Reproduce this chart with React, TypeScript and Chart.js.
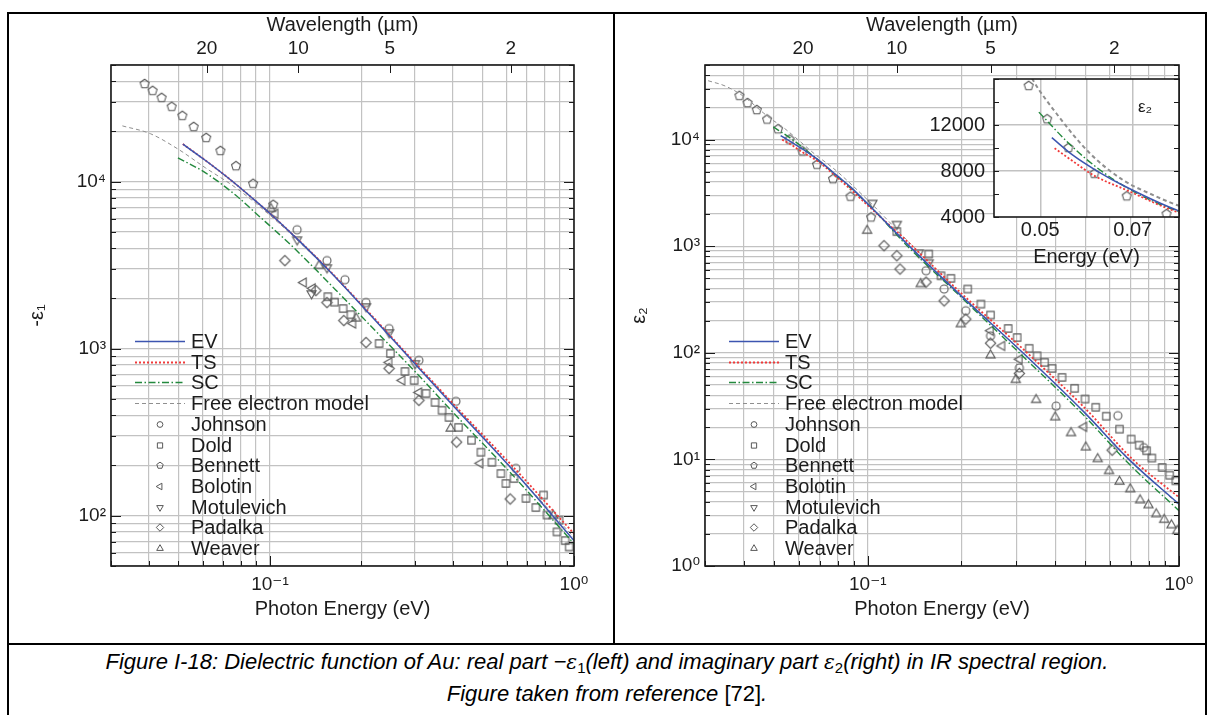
import React, { useEffect, useRef } from 'react';
import { Chart, registerables } from 'chart.js';

Chart.register(...registerables);

// ---------------- axis / tick data ----------------
const X_MIN = 0.03;
const X_MAX = 1;
const LEFT_Y_MIN = 50;
const LEFT_Y_MAX = 50000;
const RIGHT_Y_MIN = 1;
const RIGHT_Y_MAX = 50000;
const WAVELENGTH_TICKS_UM = [20, 10, 5, 2];
const HC_EV_UM = 1.23984;
const INSET_X_TICKS = [0.04, 0.05, 0.06, 0.07, 0.08];
const INSET_X_LABELS = [0.05, 0.07];
const INSET_Y_TICKS = [4000, 6000, 8000, 10000, 12000, 14000, 16000];
const INSET_Y_LABELS = [4000, 8000, 12000];
const LEGEND_KEYS = ['EV', 'TS', 'SC', 'FE', 'Johnson', 'Dold', 'Bennett', 'Bolotin', 'Motulevich', 'Padalka', 'Weaver'];
const LEGEND_LABELS = ['EV', 'TS', 'SC', 'Free electron model', 'Johnson', 'Dold', 'Bennett', 'Bolotin', 'Motulevich', 'Padalka', 'Weaver'];

// ---------------- left panel : -eps1 ----------------
const L_EV_E = [0.0517, 0.0614, 0.075, 0.088, 0.1, 0.1228, 0.1552, 0.2034, 0.3, 0.404, 0.634, 1.0];
const L_EV_V = [16800, 13400, 10100, 7900, 6450, 4550, 2980, 1760, 810, 448, 185, 71];
const L_TS_E = [0.0517, 0.0614, 0.075, 0.088, 0.1, 0.1228, 0.1552, 0.2034, 0.3, 0.404, 0.634, 1.0];
const L_TS_V = [16800, 13400, 10100, 7900, 6450, 4560, 3000, 1780, 825, 460, 194, 78];
const L_SC_E = [0.0498, 0.0614, 0.0772, 0.088, 0.1193, 0.1645, 0.2214, 0.3, 0.404, 0.634, 1.0];
const L_SC_V = [13900, 11300, 8300, 6700, 4050, 2250, 1290, 730, 408, 172, 68];
const L_FE_E = [0.0327, 0.0404, 0.0498, 0.0614, 0.0772, 0.1, 0.15, 0.2, 0.3, 0.5, 1.0];
const L_FE_V = [21600, 19400, 15700, 12100, 9200, 6300, 3150, 1820, 820, 300, 74];

const BENNETT_E = [0.0387, 0.0411, 0.044, 0.0475, 0.0515, 0.0561, 0.0617, 0.0687, 0.0773, 0.088, 0.1025];
const L_BENNETT_V = [38500, 35000, 31800, 28100, 24800, 21300, 18300, 15300, 12400, 9720, 7280];

const L_JOHNSON_E = [0.1228, 0.154, 0.1765, 0.207, 0.2465, 0.309, 0.409, 0.644];
const L_JOHNSON_V = [5160, 3370, 2590, 1890, 1320, 851, 484, 192];
const L_DOLD_E = [0.155, 0.163, 0.174, 0.1846, 0.2285, 0.249, 0.278, 0.298, 0.326, 0.349, 0.368, 0.388, 0.417, 0.46, 0.494, 0.537, 0.575, 0.597, 0.635, 0.695, 0.749, 0.794, 0.815, 0.879, 0.893, 0.935, 0.964];
const L_DOLD_V = [2050, 1900, 1740, 1600, 1075, 937, 731, 646, 540, 477, 428, 388, 338, 283, 240, 209, 179, 156, 167, 127, 112, 133, 101, 80, 94, 71, 65];
const L_BOLOTIN_E = [0.104, 0.129, 0.138, 0.1875, 0.2465, 0.272, 0.309, 0.491];
const L_BOLOTIN_V = [6430, 2490, 2300, 1415, 828, 646, 547, 206];
const L_MOTULEVICH_E = [0.1228, 0.137, 0.154, 0.207, 0.2465, 0.3];
const L_MOTULEVICH_V = [4500, 2140, 3060, 1790, 1250, 817];
const L_PADALKA_E = [0.112, 0.1416, 0.154, 0.175, 0.207, 0.2465, 0.309, 0.411, 0.617];
const L_PADALKA_V = [3370, 2230, 1890, 1475, 1090, 762, 491, 276, 126];
const L_WEAVER_E = [0.1007, 0.145, 0.192, 0.393, 0.855];
const L_WEAVER_V = [6890, 3140, 1520, 333, 100];

// ---------------- right panel : eps2 ----------------
const R_EV_E = [0.0525, 0.0572, 0.0622, 0.0687, 0.0797, 0.088, 0.1035, 0.136, 0.2, 0.315, 0.5, 0.69, 1.0];
const R_EV_V = [10900, 9330, 8020, 6590, 4580, 3600, 2250, 1000, 340, 100, 27, 10, 3.8];
const R_TS_E = [0.0531, 0.0572, 0.0615, 0.0687, 0.0797, 0.1035, 0.138, 0.2, 0.325, 0.5, 0.71, 1.0];
const R_TS_V = [9980, 8810, 7630, 6330, 4420, 2200, 1020, 360, 100, 30, 10, 4.4];
const R_SC_E = [0.0497, 0.0563, 0.0622, 0.0692, 0.0797, 0.1035, 0.135, 0.2, 0.31, 0.5, 0.68, 1.0];
const R_SC_V = [13120, 10350, 8310, 6430, 4520, 2250, 980, 330, 97, 25, 9.5, 3.3];
const R_FE_E = [0.0307, 0.0348, 0.0396, 0.0464, 0.0483, 0.0535, 0.0606, 0.0678, 0.075, 0.0797, 0.1035, 0.136, 0.2, 0.315, 0.5, 0.69, 1.0];
const R_FE_V = [35600, 31800, 25800, 17600, 16000, 13000, 9590, 7240, 5800, 5020, 2450, 1080, 350, 100, 27, 10.2, 3.7];

const R_BENNETT_V = [25700, 22000, 18900, 15400, 12500, 10000, 7750, 5800, 4250, 2910, 1860];
const R_JOHNSON_E = [0.154, 0.176, 0.2065, 0.248, 0.307, 0.403, 0.636, 0.77];
const R_JOHNSON_V = [588, 396, 248, 144, 72, 31.6, 25.7, 12.9];
const R_DOLD_E = [0.124, 0.157, 0.172, 0.185, 0.2095, 0.231, 0.248, 0.2825, 0.302, 0.33, 0.35, 0.37, 0.391, 0.421, 0.462, 0.499, 0.54, 0.584, 0.644, 0.702, 0.745, 0.787, 0.818, 0.883, 0.933, 0.977];
const R_DOLD_V = [1370, 843, 527, 499, 396, 286, 226, 169, 139, 110, 93.7, 81.3, 71.3, 58.7, 46.4, 36.8, 30.8, 25.4, 19.2, 15.5, 13.6, 12.05, 10.3, 8.4, 7.1, 6.3];
const R_BOLOTIN_E = [0.248, 0.27, 0.307, 0.495];
const R_BOLOTIN_V = [161, 116, 87, 20.2];
const R_MOTULEVICH_E = [0.1035, 0.124, 0.146, 0.157];
const R_MOTULEVICH_V = [2540, 1610, 870, 700];
const R_PADALKA_E = [0.1128, 0.124, 0.127, 0.154, 0.176, 0.2065, 0.248, 0.307, 0.61];
const R_PADALKA_V = [1010, 813, 610, 460, 307, 207, 123, 64, 12.2];
const R_WEAVER_E = [0.0995, 0.148, 0.199, 0.248, 0.299, 0.3475, 0.4, 0.45, 0.502, 0.548, 0.596, 0.644, 0.697, 0.75, 0.798, 0.845, 0.896, 0.946, 0.987];
const R_WEAVER_V = [1400, 442, 186, 95, 55.8, 36.2, 24.9, 17.7, 13.0, 10.1, 7.8, 6.2, 5.27, 4.15, 3.73, 3.07, 2.72, 2.42, 2.14];

// ---------------- styles ----------------
const FONT = '"Liberation Sans", Arial, "DejaVu Sans", sans-serif';
const TXT = '#1c1c1c';
const GRID = '#c2c2c2';
const MARKER_COLOR = '#595959';
const LINE_STYLE: Record<string, { color: string; dash: number[]; width: number }> = {
  EV: { color: '#3c55b0', dash: [], width: 1.5 },
  TS: { color: '#f03a3a', dash: [2, 2], width: 1.8 },
  SC: { color: '#23893d', dash: [7, 2.5, 1.5, 2.5], width: 1.4 },
  FE: { color: '#8f8f8f', dash: [4, 3], width: 1 },
};
const MARKER_SHAPE: Record<string, { shape: string; r: number }> = {
  Johnson: { shape: 'circle', r: 4 },
  Dold: { shape: 'square', r: 4.3 },
  Bennett: { shape: 'pentagon', r: 4.7 },
  Bolotin: { shape: 'triLeft', r: 5.3 },
  Motulevich: { shape: 'triDown', r: 5.3 },
  Padalka: { shape: 'diamond', r: 5.2 },
  Weaver: { shape: 'triUp', r: 5.3 },
};

const SUP: Record<string, string> = { '-': '⁻', '0': '⁰', '1': '¹', '2': '²', '3': '³', '4': '⁴', '5': '⁵', '6': '⁶', '7': '⁷', '8': '⁸', '9': '⁹' };
const isPow10 = (v: number) => { const e = Math.log10(v); return Math.abs(e - Math.round(e)) < 1e-6; };
const pow10Label = (v: number) => isPow10(v) ? '10' + String(Math.round(Math.log10(v))).split('').map((c) => SUP[c]).join('') : '';
function logTicks(min: number, max: number) {
  const out: { value: number }[] = [];
  for (let d = Math.floor(Math.log10(min)); d <= Math.ceil(Math.log10(max)); d++) {
    for (let m = 1; m < 10; m++) {
      const v = parseFloat((m * Math.pow(10, d)).toPrecision(6));
      if (v >= min * 0.9999 && v <= max * 1.0001) out.push({ value: v });
    }
  }
  return out;
}
const pts = (e: number[], v: number[]) => e.map((x, i) => ({ x, y: v[i] }));

function shapePath(ctx: CanvasRenderingContext2D, shape: string, x: number, y: number, r: number) {
  ctx.beginPath();
  const poly = (n: number, rot: number) => {
    for (let i = 0; i < n; i++) {
      const a = rot + (i * 2 * Math.PI) / n;
      const px = x + r * Math.cos(a);
      const py = y + r * Math.sin(a);
      if (i) ctx.lineTo(px, py); else ctx.moveTo(px, py);
    }
    ctx.closePath();
  };
  switch (shape) {
    case 'circle': ctx.arc(x, y, r, 0, Math.PI * 2); break;
    case 'square': { const s = r * 0.85; ctx.rect(x - s, y - s, 2 * s, 2 * s); break; }
    case 'pentagon': poly(5, -Math.PI / 2); break;
    case 'triUp': poly(3, -Math.PI / 2); break;
    case 'triDown': poly(3, Math.PI / 2); break;
    case 'triLeft': poly(3, Math.PI); break;
    case 'diamond': poly(4, -Math.PI / 2); break;
  }
}

function markerImage(shape: string, r: number) {
  const size = Math.ceil(2 * r + 4);
  const c = document.createElement('canvas');
  c.width = size;
  c.height = size;
  const ctx = c.getContext('2d')!;
  ctx.strokeStyle = MARKER_COLOR;
  ctx.lineWidth = 1.1;
  shapePath(ctx, shape, size / 2, size / 2, r);
  ctx.stroke();
  return c;
}

function lineDs(key: string, e: number[], v: number[], widthScale = 1) {
  const s = LINE_STYLE[key];
  return {
    label: key,
    data: pts(e, v),
    showLine: true,
    pointRadius: 0,
    pointHoverRadius: 0,
    borderColor: s.color,
    backgroundColor: s.color,
    borderDash: s.dash,
    borderWidth: s.width * widthScale,
    cubicInterpolationMode: 'monotone',
    fill: false,
  };
}
function markerDs(key: string, e: number[], v: number[]) {
  const m = MARKER_SHAPE[key];
  return {
    label: key,
    data: pts(e, v),
    showLine: false,
    pointStyle: markerImage(m.shape, m.r),
    pointRadius: m.r,
    pointHoverRadius: m.r,
    borderColor: MARKER_COLOR,
    backgroundColor: 'rgba(0,0,0,0)',
  };
}

const LEG_TOP = 276;
const LEG_DY = 20.7;

function decoPlugin(withLegend: boolean) {
  return {
    id: 'deco',
    afterDatasetsDraw(chart: any) {
      const { ctx, chartArea: a } = chart;
      const sx = chart.scales.x;
      const sy = chart.scales.y;
      const sx2 = chart.scales.x2;
      ctx.save();
      ctx.strokeStyle = '#1a1a1a';
      ctx.lineWidth = 1;
      ctx.setLineDash([]);
      ctx.beginPath();
      for (const t of sx.ticks) {
        const px = Math.round(sx.getPixelForValue(t.value)) + 0.5;
        const L = isPow10(t.value) ? 10 : 5;
        ctx.moveTo(px, a.bottom);
        ctx.lineTo(px, a.bottom - L);
      }
      for (const t of sy.ticks) {
        const py = Math.round(sy.getPixelForValue(t.value)) + 0.5;
        const L = isPow10(t.value) ? 10 : 5;
        ctx.moveTo(a.left, py);
        ctx.lineTo(a.left + L, py);
        ctx.moveTo(a.right, py);
        ctx.lineTo(a.right - L, py);
      }
      if (sx2) {
        for (const t of sx2.ticks) {
          const px = Math.round(sx2.getPixelForValue(t.value)) + 0.5;
          ctx.moveTo(px, a.top);
          ctx.lineTo(px, a.top + 8);
        }
      }
      ctx.stroke();
      ctx.lineWidth = 1.6;
      ctx.strokeRect(a.left, a.top, a.right - a.left, a.bottom - a.top);

      if (withLegend) {
        ctx.font = `20px ${FONT}`;
        ctx.textBaseline = 'middle';
        ctx.textAlign = 'left';
        LEGEND_KEYS.forEach((key, i) => {
          const y = Math.round(a.top + LEG_TOP + i * LEG_DY) + 0.5;
          if (LINE_STYLE[key]) {
            const s = LINE_STYLE[key];
            ctx.strokeStyle = s.color;
            ctx.lineWidth = s.width;
            ctx.setLineDash(s.dash);
            ctx.beginPath();
            ctx.moveTo(a.left + 24, y);
            ctx.lineTo(a.left + 74, y);
            ctx.stroke();
            ctx.setLineDash([]);
          } else {
            const m = MARKER_SHAPE[key];
            ctx.strokeStyle = MARKER_COLOR;
            ctx.lineWidth = 1;
            shapePath(ctx, m.shape, a.left + 49, y, m.r * 0.72);
            ctx.stroke();
          }
          ctx.fillStyle = TXT;
          ctx.fillText(LEGEND_LABELS[i], a.left + 80, y + 1);
        });
      }
      ctx.restore();
    },
  };
}

function panelConfig(p: {
  ymin: number; ymax: number; ylabel: string; leftW: number; padRight: number; titlePad: number; datasets: any[];
}) {
  const tickFont = { size: 19, family: FONT };
  const titleFont = { size: 20, family: FONT };
  return {
    type: 'scatter',
    data: { datasets: p.datasets },
    options: {
      responsive: false,
      animation: false,
      events: [],
      layout: { padding: { left: 0, right: p.padRight, top: 0, bottom: 0 } },
      plugins: { legend: { display: false }, tooltip: { enabled: false } },
      scales: {
        x: {
          type: 'logarithmic', position: 'bottom', min: X_MIN, max: X_MAX,
          afterBuildTicks: (s: any) => { s.ticks = logTicks(X_MIN, X_MAX); },
          afterFit: (s: any) => { s.height = 79; },
          grid: { color: GRID, lineWidth: 1.2, drawTicks: false },
          border: { display: false },
          ticks: { autoSkip: false, maxRotation: 0, minRotation: 0, padding: 7, color: TXT, font: tickFont, callback: (v: any) => pow10Label(Number(v)) },
          title: { display: true, text: 'Photon Energy (eV)', color: TXT, font: titleFont, padding: { top: 0, bottom: 24 } },
        },
        x2: {
          type: 'logarithmic', position: 'top', min: X_MIN, max: X_MAX,
          afterBuildTicks: (s: any) => { s.ticks = WAVELENGTH_TICKS_UM.map((w) => ({ value: HC_EV_UM / w })); },
          afterFit: (s: any) => { s.height = 65; },
          grid: { display: false, drawTicks: false },
          border: { display: false },
          ticks: { autoSkip: false, maxRotation: 0, minRotation: 0, padding: 5, color: TXT, font: tickFont, callback: (v: any) => String(Math.round(HC_EV_UM / Number(v))) },
          title: { display: true, text: 'Wavelength (µm)', color: TXT, font: titleFont, padding: { top: 13, bottom: 0 } },
        },
        y: {
          type: 'logarithmic', position: 'left', min: p.ymin, max: p.ymax,
          afterBuildTicks: (s: any) => { s.ticks = logTicks(p.ymin, p.ymax); },
          afterFit: (s: any) => { s.width = p.leftW; },
          grid: { color: GRID, lineWidth: 1.2, drawTicks: false },
          border: { display: false },
          ticks: { autoSkip: false, padding: 5, color: TXT, font: tickFont, callback: (v: any) => pow10Label(Number(v)) },
          title: { display: true, text: p.ylabel, color: TXT, font: titleFont, padding: { top: p.titlePad, bottom: 0 } },
        },
      },
    },
    plugins: [decoPlugin(true)],
  };
}

function insetConfig() {
  const f = { size: 20, family: FONT };
  const near = (arr: number[], v: number) => arr.some((a) => Math.abs(a - v) < 1e-9);
  return {
    type: 'scatter',
    data: {
      datasets: [
        lineDs('EV', R_EV_E, R_EV_V),
        lineDs('TS', R_TS_E, R_TS_V),
        lineDs('SC', R_SC_E, R_SC_V),
        lineDs('FE', R_FE_E, R_FE_V, 2),
        markerDs('Bennett', BENNETT_E, R_BENNETT_V),
      ],
    },
    options: {
      responsive: false,
      animation: false,
      events: [],
      layout: { padding: { left: 0, right: 21, top: 7, bottom: 0 } },
      plugins: { legend: { display: false }, tooltip: { enabled: false } },
      scales: {
        x: {
          type: 'linear', min: 0.04, max: 0.08,
          afterBuildTicks: (s: any) => { s.ticks = INSET_X_TICKS.map((v) => ({ value: v })); },
          afterFit: (s: any) => { s.height = 56; },
          grid: { color: (c: any) => (c.tick && c.tick.value > 0.041 && c.tick.value < 0.079 ? GRID : 'rgba(0,0,0,0)'), lineWidth: 1.5, drawTicks: false },
          border: { display: false },
          ticks: { autoSkip: false, maxRotation: 0, minRotation: 0, padding: 1, color: TXT, font: f, callback: (v: any) => (near(INSET_X_LABELS, Number(v)) ? Number(v).toFixed(2) : '') },
          title: { display: true, text: 'Energy (eV)', color: TXT, font: f, padding: { top: 0, bottom: 4 } },
        },
        y: {
          type: 'linear', min: 4000, max: 16000,
          afterBuildTicks: (s: any) => { s.ticks = INSET_Y_TICKS.map((v) => ({ value: v })); },
          afterFit: (s: any) => { s.width = 64; },
          grid: { color: (c: any) => (c.tick && (c.tick.value === 8000 || c.tick.value === 12000) ? GRID : 'rgba(0,0,0,0)'), lineWidth: 1.5, drawTicks: false },
          border: { display: false },
          ticks: { autoSkip: false, padding: 9, color: TXT, font: f, callback: (v: any) => (near(INSET_Y_LABELS, Number(v)) ? String(v) : '') },
        },
      },
    },
    plugins: [
      {
        id: 'insetBg',
        beforeDraw(chart: any) {
          const { ctx, chartArea: a } = chart;
          ctx.save();
          ctx.fillStyle = '#ffffff';
          ctx.fillRect(a.left, a.top, a.right - a.left, a.bottom - a.top);
          ctx.restore();
        },
        afterDatasetsDraw(chart: any) {
          const { ctx, chartArea: a } = chart;
          const sy = chart.scales.y;
          ctx.save();
          ctx.strokeStyle = '#1a1a1a';
          ctx.lineWidth = 1;
          ctx.beginPath();
          for (const t of sy.ticks) {
            const py = Math.round(sy.getPixelForValue(t.value)) + 0.5;
            ctx.moveTo(a.left, py);
            ctx.lineTo(a.left + 5, py);
            ctx.moveTo(a.right, py);
            ctx.lineTo(a.right - 5, py);
          }
          ctx.stroke();
          ctx.lineWidth = 1.6;
          ctx.strokeRect(a.left, a.top, a.right - a.left, a.bottom - a.top);
          ctx.font = `17px ${FONT}`;
          ctx.fillStyle = TXT;
          ctx.textAlign = 'center';
          ctx.textBaseline = 'middle';
          ctx.fillText('ε₂', a.left + 151, a.top + 28);
          ctx.restore();
        },
      },
    ],
  };
}

export default function App() {
  const leftRef = useRef<HTMLCanvasElement>(null);
  const rightRef = useRef<HTMLCanvasElement>(null);
  const insetRef = useRef<HTMLCanvasElement>(null);

  useEffect(() => {
    const left = new Chart(leftRef.current as HTMLCanvasElement, panelConfig({
      ymin: LEFT_Y_MIN, ymax: LEFT_Y_MAX, ylabel: '-ε₁', leftW: 111, padRight: 39, titlePad: 25,
      datasets: [
        lineDs('EV', L_EV_E, L_EV_V),
        lineDs('TS', L_TS_E, L_TS_V),
        lineDs('SC', L_SC_E, L_SC_V),
        lineDs('FE', L_FE_E, L_FE_V),
        markerDs('Johnson', L_JOHNSON_E, L_JOHNSON_V),
        markerDs('Dold', L_DOLD_E, L_DOLD_V),
        markerDs('Bennett', BENNETT_E, L_BENNETT_V),
        markerDs('Bolotin', L_BOLOTIN_E, L_BOLOTIN_V),
        markerDs('Motulevich', L_MOTULEVICH_E, L_MOTULEVICH_V),
        markerDs('Padalka', L_PADALKA_E, L_PADALKA_V),
        markerDs('Weaver', L_WEAVER_E, L_WEAVER_V),
      ],
    }) as any);
    const right = new Chart(rightRef.current as HTMLCanvasElement, panelConfig({
      ymin: RIGHT_Y_MIN, ymax: RIGHT_Y_MAX, ylabel: 'ε₂', leftW: 90, padRight: 34, titlePad: 12,
      datasets: [
        lineDs('EV', R_EV_E, R_EV_V),
        lineDs('TS', R_TS_E, R_TS_V),
        lineDs('SC', R_SC_E, R_SC_V),
        lineDs('FE', R_FE_E, R_FE_V),
        markerDs('Johnson', R_JOHNSON_E, R_JOHNSON_V),
        markerDs('Dold', R_DOLD_E, R_DOLD_V),
        markerDs('Bennett', BENNETT_E, R_BENNETT_V),
        markerDs('Bolotin', R_BOLOTIN_E, R_BOLOTIN_V),
        markerDs('Motulevich', R_MOTULEVICH_E, R_MOTULEVICH_V),
        markerDs('Padalka', R_PADALKA_E, R_PADALKA_V),
        markerDs('Weaver', R_WEAVER_E, R_WEAVER_V),
      ],
    }) as any);
    const inset = new Chart(insetRef.current as HTMLCanvasElement, insetConfig() as any);
    return () => { left.destroy(); right.destroy(); inset.destroy(); };
  }, []);

  const line = (l: number, t: number, w: number, h: number) => (
    <div style={{ position: 'absolute', left: l, top: t, width: w, height: h, background: '#000', zIndex: 5 }} />
  );
  const sub: React.CSSProperties = { fontSize: '0.68em', verticalAlign: '-0.28em', lineHeight: 0, fontStyle: 'normal' };
  const eps: React.CSSProperties = { fontFamily: '"DejaVu Serif", serif', fontStyle: 'italic', fontSize: '0.92em' };

  return (
    <div style={{ position: 'absolute', left: 0, top: 0, width: 1213, height: 715, background: '#fff', overflow: 'hidden' }}>
      <canvas ref={leftRef} width={613} height={645} style={{ position: 'absolute', left: 0, top: 0, width: 613, height: 645 }} />
      <canvas ref={rightRef} width={598} height={645} style={{ position: 'absolute', left: 615, top: 0, width: 598, height: 645 }} />
      <canvas ref={insetRef} width={270} height={215} style={{ position: 'absolute', left: 930, top: 58, width: 270, height: 215, zIndex: 2 }} />
      {line(7, 12, 1200, 2)}
      {line(7, 12, 2, 703)}
      {line(1205, 12, 2, 703)}
      {line(613, 12, 2, 633)}
      {line(7, 643, 1200, 2)}
      <div style={{ position: 'absolute', left: 9, top: 646, width: 1196, textAlign: 'center', fontFamily: '"Liberation Sans Narrow", "Arial Narrow", "Liberation Sans", sans-serif', fontStyle: 'italic', fontSize: 22, lineHeight: '31px', color: '#000' }}>
        <div>Figure I-18: Dielectric function of Au: real part −<span style={eps}>ε</span><span style={sub}>1</span>(left) and imaginary part <span style={eps}>ε</span><span style={sub}>2</span>(right) in IR spectral region.</div>
        <div>Figure taken from reference <span style={{ fontStyle: 'normal' }}>[72]</span>.</div>
      </div>
    </div>
  );
}
